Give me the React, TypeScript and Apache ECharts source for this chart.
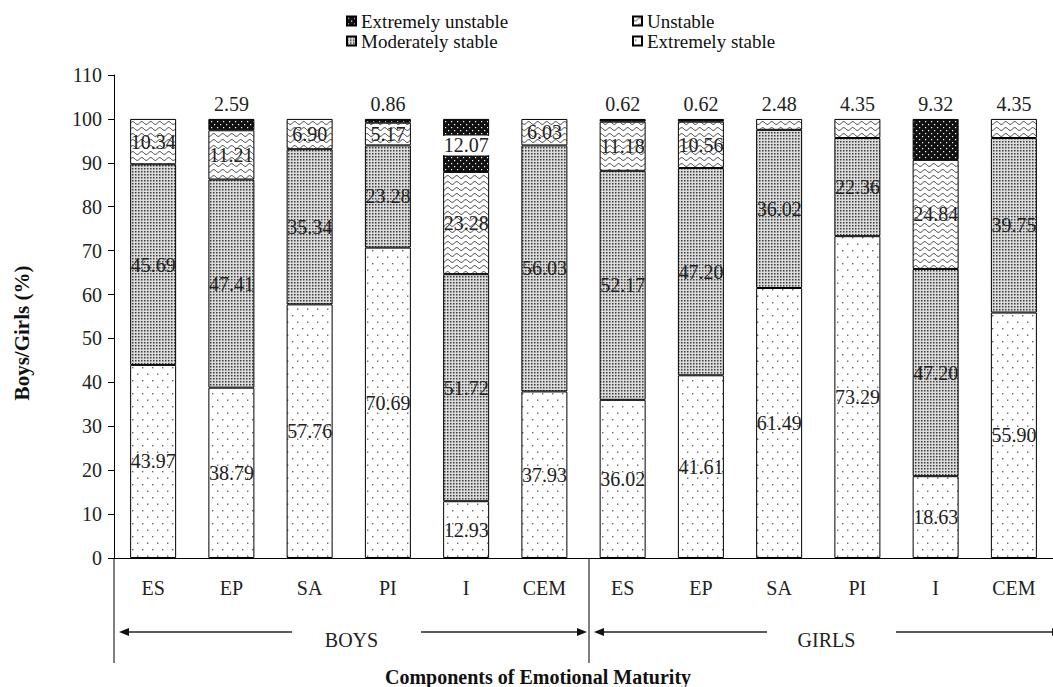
import React, { useEffect, useRef } from "react";
import * as echarts from "echarts";

// ---------- data ----------
const categories = ["ES", "EP", "SA", "PI", "I", "CEM"];
const groups = ["BOYS", "GIRLS"];
const extremelyStable = [43.97, 38.79, 57.76, 70.69, 12.93, 37.93, 36.02, 41.61, 61.49, 73.29, 18.63, 55.9];
const moderatelyStable = [45.69, 47.41, 35.34, 23.28, 51.72, 56.03, 52.17, 47.2, 36.02, 22.36, 47.2, 39.75];
const unstable = [10.34, 11.21, 6.9, 5.17, 23.28, 6.03, 11.18, 10.56, 2.48, 4.35, 24.84, 4.35];
const extremelyUnstable = [0, 2.59, 0, 0.86, 12.07, 0, 0.62, 0.62, 0, 0, 9.32, 0];
const yMin = 0;
const yMax = 110;
const yStep = 10;
const seriesNames = ["Extremely stable", "Moderately stable", "Unstable", "Extremely unstable"];
const legendOrder = ["Extremely unstable", "Unstable", "Moderately stable", "Extremely stable"];
const yTitle = "Boys/Girls (%)";
const xTitle = "Components of Emotional Maturity";

// ---------- layout ----------
const W = 1053;
const H = 687;
const GRID_LEFT = 114;
const GRID_TOP = 75;
const GRID_W = 950;
const GRID_H = 483;
const FONT = "'Liberation Serif', 'Times New Roman', serif";

function makePattern(w: number, h: number, draw: (ctx: CanvasRenderingContext2D) => void) {
  const c = document.createElement("canvas");
  c.width = w;
  c.height = h;
  const ctx = c.getContext("2d") as CanvasRenderingContext2D;
  draw(ctx);
  return { image: c, repeat: "repeat", imageWidth: w, imageHeight: h } as any;
}

function buildPatterns() {
  const sparseDots = makePattern(10, 13, (ctx) => {
    ctx.fillStyle = "#ffffff";
    ctx.fillRect(0, 0, 10, 13);
    ctx.fillStyle = "#666666";
    ctx.fillRect(2, 3, 1.4, 1.4);
    ctx.fillRect(7, 9.5, 1.4, 1.4);
  });
  const fineMesh = makePattern(3, 3, (ctx) => {
    ctx.fillStyle = "#dcdcdc";
    ctx.fillRect(0, 0, 3, 3);
    ctx.fillStyle = "#3a3a3a";
    ctx.fillRect(0, 0, 1.5, 1.5);
  });
  const waves = makePattern(9, 6, (ctx) => {
    ctx.fillStyle = "#ffffff";
    ctx.fillRect(0, 0, 9, 6);
    ctx.strokeStyle = "#222222";
    ctx.lineWidth = 0.9;
    ctx.beginPath();
    for (let i = 0; i <= 18; i++) {
      const x = (i / 18) * 9;
      const y = 3 + 1.4 * Math.sin((x / 9) * Math.PI * 2);
      if (i === 0) ctx.moveTo(x, y);
      else ctx.lineTo(x, y);
    }
    ctx.stroke();
  });
  const darkDots = makePattern(6, 6, (ctx) => {
    ctx.fillStyle = "#111111";
    ctx.fillRect(0, 0, 6, 6);
    ctx.fillStyle = "#ffffff";
    ctx.fillRect(1, 1, 1.2, 1.2);
    ctx.fillRect(4, 4, 1.2, 1.2);
  });
  return [sparseDots, fineMesh, waves, darkDots];
}

export default function App() {
  const ref = useRef<HTMLDivElement>(null);

  useEffect(() => {
    if (!ref.current) return;
    const chart = echarts.init(ref.current, undefined, { renderer: "svg" });
    const patterns = buildPatterns();
    const values = [extremelyStable, moderatelyStable, unstable, extremelyUnstable];
    const axisData: string[] = [];
    groups.forEach((g) => categories.forEach((c) => axisData.push(g + "|" + c)));
    const catW = GRID_W / axisData.length;
    const perGroup = categories.length;

    const series = seriesNames.map((name, si) => ({
      name,
      type: "bar",
      stack: "total",
      barWidth: 46,
      itemStyle: { color: patterns[si], borderColor: "#000", borderWidth: 1 },
      data: values[si].map((v, i) => {
        if (!v) return "-";
        const girls = Math.floor(i / perGroup) === 1;
        const isEU = name === "Extremely unstable";
        const above = v < 5 || (isEU && girls);
        return {
          value: v,
          label: above
            ? { show: true, position: "top", distance: 5 }
            : {
                show: true,
                position: "inside",
                ...(isEU ? { backgroundColor: "#fff", padding: [0, 2], borderRadius: 4 } : {}),
              },
        };
      }),
      label: {
        show: true,
        fontSize: 20,
        fontFamily: FONT,
        color: "#222",
        formatter: (p: any) => Number(p.value).toFixed(2),
      },
    }));

    const graphics: any[] = [];
    const axisBottom = GRID_TOP + GRID_H;
    const lineBottom = 663;
    const arrowY = 632;
    const lineStyle = { stroke: "#222", lineWidth: 1.4 };
    // vertical separators below the axis
    for (let g = 0; g <= groups.length; g++) {
      const x = GRID_LEFT + g * perGroup * catW;
      graphics.push({ type: "line", shape: { x1: x, y1: axisBottom, x2: x, y2: lineBottom }, style: { stroke: "#000", lineWidth: 1 } });
    }
    groups.forEach((g, gi) => {
      const x0 = GRID_LEFT + gi * perGroup * catW;
      const x1 = x0 + perGroup * catW;
      const lt = x0 + 5;
      const rt = x1 - 2;
      graphics.push({ type: "line", shape: { x1: lt + 6, y1: arrowY, x2: x0 + 178, y2: arrowY }, style: lineStyle });
      graphics.push({ type: "polygon", shape: { points: [[lt, arrowY], [lt + 10, arrowY - 4], [lt + 10, arrowY + 4]] }, style: { fill: "#111" } });
      graphics.push({ type: "line", shape: { x1: x1 - 168, y1: arrowY, x2: rt - 6, y2: arrowY }, style: lineStyle });
      graphics.push({ type: "polygon", shape: { points: [[rt, arrowY], [rt - 10, arrowY - 4], [rt - 10, arrowY + 4]] }, style: { fill: "#111" } });
      graphics.push({
        type: "text",
        x: (x0 + x1) / 2,
        y: 640,
        style: { text: g, fontSize: 20, fontFamily: FONT, fill: "#222", align: "center", verticalAlign: "middle", textAlign: "center", textVerticalAlign: "middle" },
      });
    });
    graphics.push({
      type: "text",
      x: 22,
      y: 333,
      rotation: Math.PI / 2,
      style: { text: yTitle, fontSize: 21, fontWeight: "bold", fontFamily: FONT, fill: "#111", align: "center", verticalAlign: "middle", textAlign: "center", textVerticalAlign: "middle" },
    });
    graphics.push({
      type: "text",
      x: 538,
      y: 677,
      style: { text: xTitle, fontSize: 20, fontWeight: "bold", fontFamily: FONT, fill: "#111", align: "center", verticalAlign: "middle", textAlign: "center", textVerticalAlign: "middle" },
    });

    chart.setOption({
      animation: false,
      backgroundColor: "#fff",
      grid: { left: GRID_LEFT, top: GRID_TOP, width: GRID_W, height: GRID_H, containLabel: false },
      legend: legendOrder.map((name, i) => ({
        data: [name],
        left: i % 2 === 0 ? 346 : 632,
        top: i < 2 ? 11 : 31,
        padding: 0,
        icon: "rect",
        itemWidth: 9,
        itemHeight: 9,
        selectedMode: false,
        textStyle: { fontSize: 19, fontFamily: FONT, color: "#111", lineHeight: 20 },
      })),
      xAxis: {
        type: "category",
        data: axisData,
        axisLine: { show: true, lineStyle: { color: "#000", width: 1 } },
        axisTick: { show: false },
        axisLabel: {
          interval: 0,
          margin: 20,
          fontSize: 20,
          fontFamily: FONT,
          color: "#222",
          formatter: (v: string) => v.split("|")[1],
        },
        splitLine: { show: false },
      },
      yAxis: {
        type: "value",
        min: yMin,
        max: yMax,
        interval: yStep,
        axisLine: { show: true, lineStyle: { color: "#000", width: 1 } },
        axisTick: { show: true, inside: false, length: 6, lineStyle: { color: "#000" } },
        axisLabel: { margin: 12, fontSize: 20, fontFamily: FONT, color: "#222" },
        splitLine: { show: false },
      },
      graphic: graphics,
      series,
    });
    return () => chart.dispose();
  }, []);

  return (
    <div style={{ position: "absolute", left: 0, top: 0, width: W, height: H, overflow: "hidden", background: "#fff" }}>
      <div ref={ref} style={{ width: W, height: H }} />
    </div>
  );
}
